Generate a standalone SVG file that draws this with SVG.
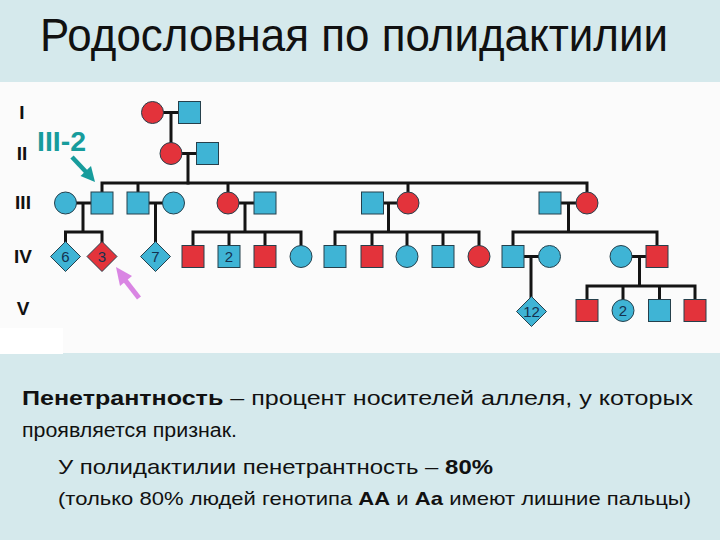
<svg xmlns="http://www.w3.org/2000/svg" width="720" height="540" viewBox="0 0 720 540">
<style>
.bg{fill:#d5e9ec}
.sq{stroke:#26404c;stroke-width:1}
.b{fill:#3fb4d5}
.r{fill:#e3333b}
.ln{stroke:#141414;stroke-width:3;fill:none;stroke-linecap:square}
.gl{font-family:"Liberation Sans",Arial,sans-serif;font-weight:bold;font-size:19px;fill:#111;text-anchor:middle}
.num{font-family:"Liberation Sans",Arial,sans-serif;font-size:15px;fill:#14314f;text-anchor:middle}
.tx{font-family:"Liberation Sans",Arial,sans-serif;fill:#111}
</style>
<defs>
<rect id="S" x="-11" y="-11" width="22" height="22"/>
<circle id="C" r="11"/>
<polygon id="D" points="0,-15 15,0 0,15 -15,0"/>
</defs>
<rect class="bg" x="0" y="0" width="720" height="540"/>
<rect x="0" y="82" width="720" height="271" fill="#fbfbfb"/>
<rect x="0" y="328" width="63" height="26" fill="#ffffff"/>
<text class="tx" x="40" y="51" font-size="46" textLength="628" lengthAdjust="spacingAndGlyphs">Родословная по полидактилии</text>

<g id="gen-labels">
<text class="gl" x="22" y="119">I</text>
<text class="gl" x="22" y="160">II</text>
<text class="gl" x="23" y="209">III</text>
<text class="gl" x="23" y="263">IV</text>
<text class="gl" x="23" y="315">V</text>
</g>

<g id="connectors" class="ln">
<path d="M163.5,112.5H178.5M171,112.5V142.5"/>
<path d="M182,153.5H196.5M188,153.5V183"/>
<path d="M102,183H587M102,183V192M138,183V192M228,183V192M408,183V192M587,183V192"/>
<path d="M76.5,203H91M83,203V232M65.5,232H102M65.5,232V241.5M102,232V241.5"/>
<path d="M149,203H162.5M155.5,203V241.5"/>
<path d="M239,203H254M245,203V232M193,232H301M193,232V245.5M229,232V245.5M265,232V245.5M301,232V245.5"/>
<path d="M383.5,203H397M388.5,203V232M335,232H479M335,232V245.5M372,232V245.5M407,232V245.5M443,232V245.5M479,232V245.5"/>
<path d="M561,203H576M568.5,203V232M513,232H657M513,232V245.5M657,232V245.5"/>
<path d="M524,256.5H538.5M531,256.5V297"/>
<path d="M632,256.5H646M639.5,256.5V286M587,286H695M587,286V299.5M623,286V299.5M659.5,286V299.5M695,286V299.5"/>
</g>

<g id="gen1">
<use id="I-1" href="#C" class="sq r" x="152.5" y="112.5"/>
<use id="I-2" href="#S" class="sq b" x="189.5" y="112.5"/>
</g>
<g id="gen2">
<use id="II-1" href="#C" class="sq r" x="171" y="153.5"/>
<use id="II-2" href="#S" class="sq b" x="207.5" y="153.5"/>
</g>
<g id="gen3">
<use id="III-1" href="#C" class="sq b" x="65.5" y="203"/>
<use id="III-2" href="#S" class="sq b" x="102" y="203"/>
<use id="III-3" href="#S" class="sq b" x="138" y="203"/>
<use id="III-4" href="#C" class="sq b" x="173.5" y="203"/>
<use id="III-5" href="#C" class="sq r" x="228" y="203"/>
<use id="III-6" href="#S" class="sq b" x="265" y="203"/>
<use id="III-7" href="#S" class="sq b" x="372.5" y="203"/>
<use id="III-8" href="#C" class="sq r" x="408" y="203"/>
<use id="III-9" href="#S" class="sq b" x="550" y="203"/>
<use id="III-10" href="#C" class="sq r" x="587" y="203"/>
</g>
<g id="gen4">
<g id="IV-1"><use href="#D" class="sq b" x="65.5" y="256.5"/><text class="num" x="65.5" y="262">6</text></g>
<g id="IV-2"><use href="#D" class="sq r" x="102" y="256.5"/><text class="num" x="102" y="262">3</text></g>
<g id="IV-3"><use href="#D" class="sq b" x="155.5" y="256.5"/><text class="num" x="155.5" y="262">7</text></g>
<use id="IV-4" href="#S" class="sq r" x="193" y="256.5"/>
<g id="IV-5"><use href="#S" class="sq b" x="229" y="256.5"/><text class="num" x="229" y="262">2</text></g>
<use id="IV-6" href="#S" class="sq r" x="265" y="256.5"/>
<use id="IV-7" href="#C" class="sq b" x="301" y="256.5"/>
<use id="IV-8" href="#S" class="sq b" x="335" y="256.5"/>
<use id="IV-9" href="#S" class="sq r" x="372" y="256.5"/>
<use id="IV-10" href="#C" class="sq b" x="407" y="256.5"/>
<use id="IV-11" href="#S" class="sq b" x="443" y="256.5"/>
<use id="IV-12" href="#C" class="sq r" x="479" y="256.5"/>
<use id="IV-13" href="#S" class="sq b" x="513" y="256.5"/>
<use id="IV-14" href="#C" class="sq b" x="549.5" y="256.5"/>
<use id="IV-15" href="#C" class="sq b" x="621" y="256.5"/>
<use id="IV-16" href="#S" class="sq r" x="657" y="256.5"/>
</g>
<g id="gen5">
<g id="V-1"><use href="#D" class="sq b" x="531.5" y="311.5"/><text class="num" x="531.5" y="317">12</text></g>
<use id="V-2" href="#S" class="sq r" x="587" y="310.5"/>
<g id="V-3"><use href="#C" class="sq b" x="623" y="310.5"/><text class="num" x="623" y="316">2</text></g>
<use id="V-4" href="#S" class="sq b" x="659.5" y="310.5"/>
<use id="V-5" href="#S" class="sq r" x="695" y="310.5"/>
</g>

<g id="pointers">
<text x="37" y="151" font-family="'Liberation Sans',Arial,sans-serif" font-weight="bold" font-size="28" fill="#179c9c" textLength="49" lengthAdjust="spacingAndGlyphs">III-2</text>
<path d="M72,157L87.5,173.5" stroke="#179c9c" stroke-width="4.5" fill="none"/>
<polygon points="95,182 80.5,176 91,166" fill="#179c9c"/>
<path d="M139,298L125,280" stroke="#d985e3" stroke-width="5" fill="none"/>
<polygon points="116,267 132,276 120,286" fill="#d985e3"/>
</g>

<g id="caption" class="tx">
<text x="22" y="405" font-size="20" textLength="671" lengthAdjust="spacingAndGlyphs"><tspan font-weight="bold">Пенетрантность</tspan> – процент носителей аллеля, у которых</text>
<text x="22" y="437" font-size="20" textLength="215" lengthAdjust="spacingAndGlyphs">проявляется признак.</text>
<text x="58" y="474" font-size="21" textLength="435" lengthAdjust="spacingAndGlyphs">У полидактилии пенетрантность – <tspan font-weight="bold">80%</tspan></text>
<text x="58" y="505" font-size="19" textLength="633" lengthAdjust="spacingAndGlyphs">(только 80% людей генотипа <tspan font-weight="bold">АА</tspan> и <tspan font-weight="bold">Аа</tspan> имеют лишние пальцы)</text>
</g>
</svg>
